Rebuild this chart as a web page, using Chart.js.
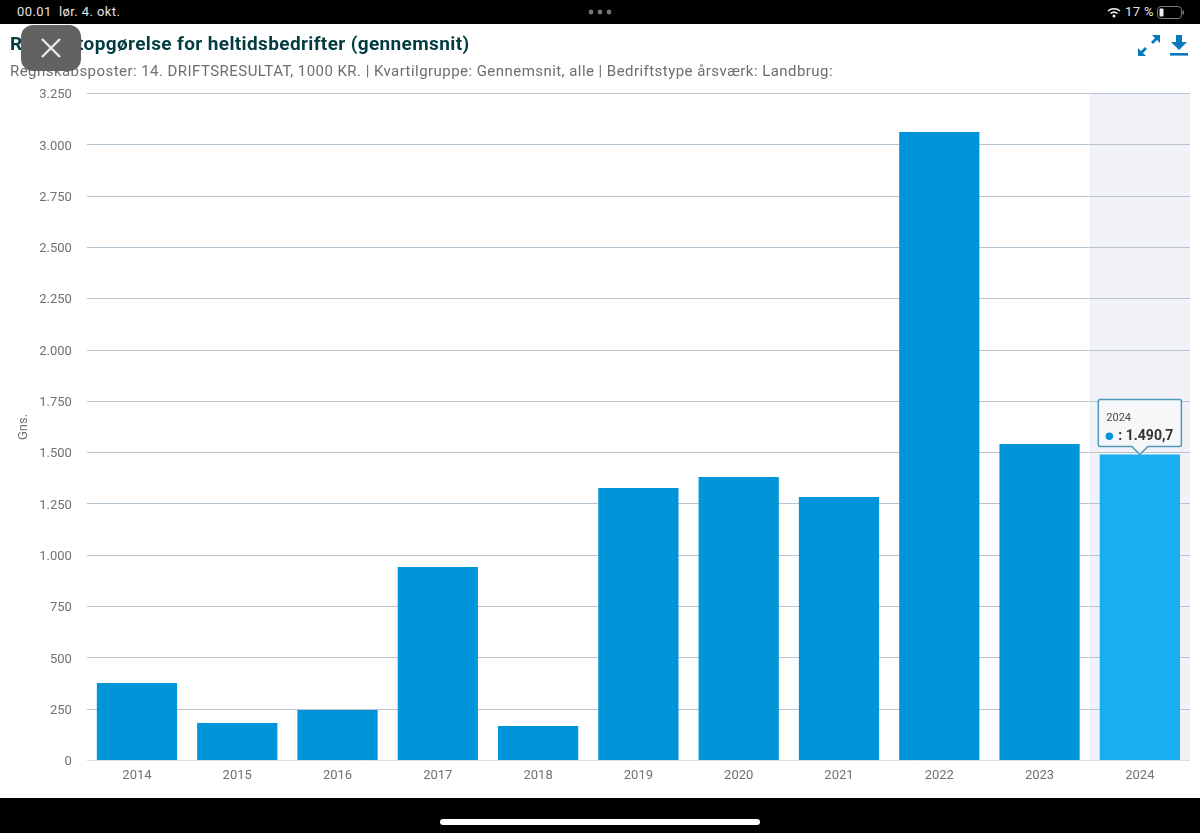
<!DOCTYPE html>
<html lang="da">
<head>
<meta charset="utf-8">
<title>Resultatopgørelse</title>
<script src="https://cdn.jsdelivr.net/npm/chart.js@4"></script>
<style>
  html, body { margin: 0; padding: 0; background: #fff; }
  body { width: 1200px; height: 833px; overflow: hidden; position: relative; font-family: Roboto, sans-serif; }
  #wrap { position: absolute; left: 0; top: 0; width: 1200px; height: 833px; }
  .abs { position: absolute; white-space: nowrap; }
  #topbar { left: 0; top: 0; width: 1200px; height: 24px; background: #000; }
  #bottombar { left: 0; top: 798px; width: 1200px; height: 35px; background: #000; }
  #home { left: 440px; top: 819px; width: 320px; height: 6px; border-radius: 3px; background: #fff; }
  .status { color: #e4e4e4; font-size: 13px; top: 4px; letter-spacing: .4px; }
  #title { left: 10px; top: 32px; font-size: 19px; font-weight: 700; color: #033c40; letter-spacing: .37px; }
  #subtitle { left: 10px; top: 62px; font-size: 15px; color: #6a6f73; letter-spacing: .45px; }
  #close { left: 21px; top: 25px; width: 60px; height: 46px; border-radius: 12px; background: #626262; }
</style>
</head>
<body>
<div id="wrap"><canvas id="chart"></canvas></div>

<div class="abs" id="topbar"></div>
<div class="abs status" style="left:17px">00.01</div>
<div class="abs status" style="left:59px">lør. 4. okt.</div>
<svg class="abs" style="left:588px;top:9px" width="24" height="6"><circle cx="3" cy="3" r="2.4" fill="#777"/><circle cx="12" cy="3" r="2.4" fill="#777"/><circle cx="21" cy="3" r="2.4" fill="#777"/></svg>
<svg class="abs" style="left:1107px;top:7px" width="14" height="11" viewBox="0 0 14 11"><path d="M1 4a9 9 0 0 1 12 0M3.5 6.5a5.5 5.5 0 0 1 7 0" fill="none" stroke="#eee" stroke-width="1.6"/><circle cx="7" cy="9" r="1.5" fill="#eee"/></svg>
<div class="abs status" style="left:1125px">17 %</div>
<svg class="abs" style="left:1157px;top:6px" width="28" height="13"><rect x=".5" y=".5" width="24" height="12" rx="3.5" fill="none" stroke="#777"/><rect x="2.5" y="2.5" width="4" height="8" rx="1" fill="#eee"/><rect x="25.5" y="4.5" width="1.5" height="4" fill="#777"/></svg>

<div class="abs" id="title">Resultatopgørelse for heltidsbedrifter (gennemsnit)</div>
<div class="abs" id="subtitle">Regnskabsposter: 14. DRIFTSRESULTAT, 1000 KR. | Kvartilgruppe: Gennemsnit, alle | Bedriftstype årsværk: Landbrug:</div>
<div class="abs" id="close"></div>
<svg class="abs" style="left:40px;top:37px" width="22" height="22"><path d="M2 2L20 20M20 2L2 20" stroke="#eee" stroke-width="2.2"/></svg>

<svg class="abs" style="left:1137px;top:34px" width="24" height="23" viewBox="0 0 24 23" fill="#0a78bd"><path d="M23 1v8l-3-3-4 4-2-2 4-4-3-3zM1 22v-8l3 3 4-4 2 2-4 4 3 3z"/></svg>
<svg class="abs" style="left:1170px;top:35px" width="18" height="21" viewBox="0 0 18 21" fill="#0a78bd"><path d="M6 0h6v7h5l-8 8-8-8h5z"/><rect x="0" y="18" width="18" height="2.6"/></svg>

<div class="abs" id="bottombar"></div>
<div class="abs" id="home"></div>

<script>
const years = ['2014', '2015', '2016', '2017', '2018', '2019', '2020', '2021', '2022', '2023', '2024'];
const values = [378, 183, 246, 943, 168, 1328, 1381, 1284, 3063, 1542, 1490.7];
const activeYear = '2024';
const yMax = 3250;
const yStep = 250;

const fontName = 'Roboto, sans-serif';
const activeIndex = years.indexOf(activeYear);

function fmt(v, decimals) {
    return v.toLocaleString('da-DK', { minimumFractionDigits: decimals, maximumFractionDigits: decimals });
}

// grey column behind the selected year
const bandPlugin = {
    id: 'band',
    beforeDraw(chart) {
        const x = chart.scales.x;
        const half = (x.getPixelForValue(1) - x.getPixelForValue(0)) / 2;
        const c = x.getPixelForValue(activeIndex);
        const area = chart.chartArea;
        chart.ctx.fillStyle = '#f1f2f7';
        chart.ctx.fillRect(c - half, area.top, half * 2, area.bottom - area.top);
    }
};

const chart = new Chart(document.getElementById('chart').getContext('2d'), {
    type: 'bar',
    data: {
        labels: years,
        datasets: [{
            label: '',
            data: values,
            backgroundColor: years.map(y => y === activeYear ? '#19aef0' : '#0095d9'),
            hoverBackgroundColor: years.map(y => y === activeYear ? '#19aef0' : '#0095d9'),
            categoryPercentage: 1,
            barPercentage: 0.8
        }]
    },
    options: {
        responsive: true,
        maintainAspectRatio: false,
        animation: false,
        events: [],
        layout: { padding: { top: 93.5, right: 10, left: 0, bottom: 0 } },
        plugins: {
            legend: { display: false },
            tooltip: {
                enabled: true,
                yAlign: 'bottom',
                xAlign: 'center',
                caretSize: 8,
                caretPadding: 0,
                cornerRadius: 2,
                backgroundColor: 'rgba(246,247,249,0.92)',
                borderColor: '#4f97bb',
                borderWidth: 1.5,
                padding: { top: 12, bottom: 2, left: 8, right: 8 },
                titleColor: '#4a4a4a',
                titleFont: { family: fontName, size: 11, weight: 'normal' },
                titleMarginBottom: 3,
                bodyColor: '#333',
                bodyFont: { family: fontName, size: 14, weight: 'bold' },
                usePointStyle: true,
                boxWidth: 6,
                boxHeight: 6,
                boxPadding: 4,
                callbacks: {
                    label: ctx => ': ' + fmt(ctx.parsed.y, 1),
                    labelColor: () => ({ backgroundColor: '#0095d9', borderColor: '#0095d9' }),
                    labelPointStyle: () => ({ pointStyle: 'circle', rotation: 0 })
                }
            }
        },
        scales: {
            x: {
                grid: { display: false, drawTicks: false },
                border: { display: false },
                ticks: { color: '#6d7276', font: { family: fontName, size: 13 }, padding: 7, maxRotation: 0 },
                afterFit(scale) { scale.height = 72.5; }
            },
            y: {
                min: 0,
                max: yMax,
                grid: {
                    drawTicks: false,
                    color: ctx => ctx.tick.value === 0 ? '#d6e0e8' : '#b7c5d1',
                    lineWidth: 1
                },
                border: { display: false },
                ticks: {
                    stepSize: yStep,
                    color: '#6d7276',
                    font: { family: fontName, size: 13 },
                    padding: 15,
                    labelOffset: 1.5,
                    callback: v => fmt(v, 0)
                },
                title: {
                    display: true,
                    text: 'Gns.',
                    color: '#6d7276',
                    font: { family: fontName, size: 13 },
                    padding: { top: 16, bottom: 0 }
                },
                afterFit(scale) { scale.width = 86.8; }
            }
        }
    },
    plugins: [bandPlugin]
});

// the reference shows the hover tooltip on the selected year
chart.tooltip.setActiveElements([{ datasetIndex: 0, index: activeIndex }], { x: 0, y: 0 });
chart.update();
</script>
</body>
</html>
